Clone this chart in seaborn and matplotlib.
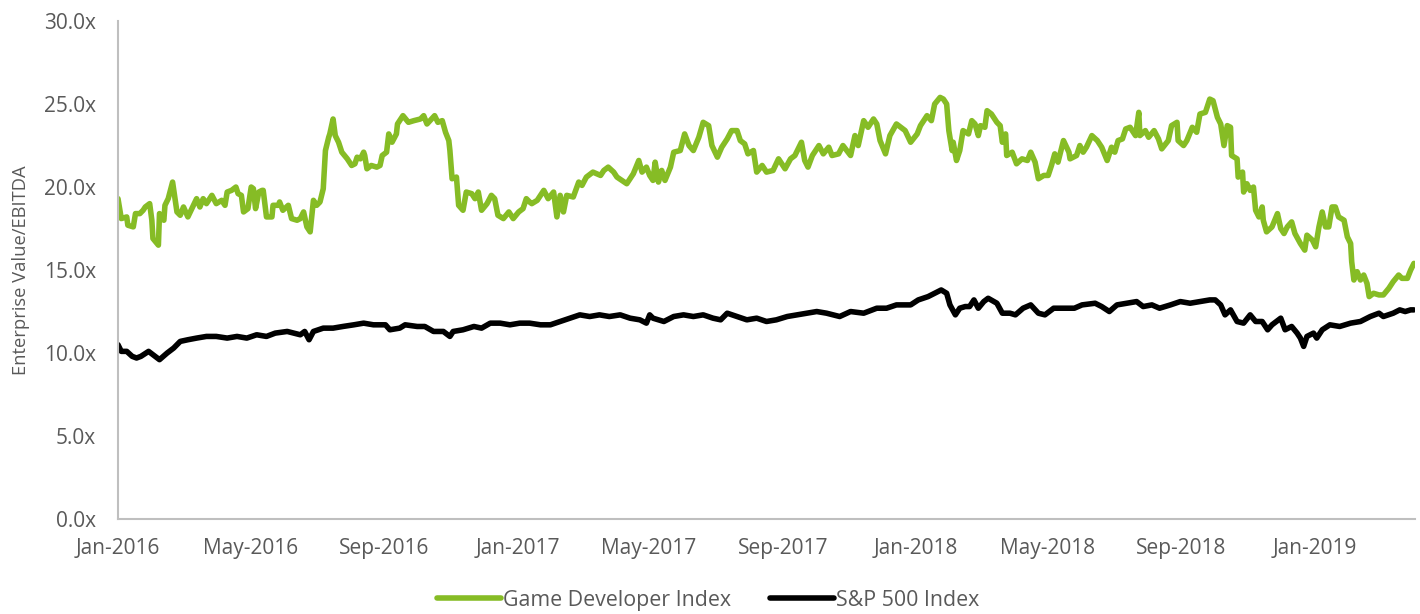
import matplotlib
matplotlib.use("Agg")
import matplotlib.pyplot as plt
import matplotlib.dates as mdates
from matplotlib.ticker import FuncFormatter
import seaborn as sns
import pandas as pd

START = "2016-01-01"

# Game Developer Index: days since Jan 1 2016 and EV/EBITDA multiple
game_days = [0, 3, 8, 9, 14, 16, 20, 23, 25, 29, 31, 32, 37, 38, 42, 43, 46, 50, 54, 57,
             60, 64, 72, 75, 78, 81, 86, 90, 95, 98, 100, 104, 108, 110, 113, 115, 119, 122, 124, 126,
             129, 132, 133, 136, 141, 142, 147, 148, 151, 156, 159, 164, 167, 170, 173, 176, 179, 182, 185, 188,
             190, 193, 194, 197, 199, 202, 205, 210, 214, 217, 219, 222, 225, 226, 228, 232, 237, 240, 242, 246,
             248, 251, 255, 256, 261, 266, 271, 277, 280, 283, 290, 293, 297, 300, 303, 304, 306, 310, 312, 316,
             319, 324, 327, 330, 333, 338, 342, 345, 348, 353, 358, 362, 367, 371, 374, 377,
             379, 384, 390, 394, 399, 402, 405, 408, 411, 417, 422, 425, 429, 435, 442, 445, 449, 454, 457, 466,
             472, 477, 480, 484, 487, 490, 492, 495, 498, 501, 506, 509, 515, 519, 523, 527, 532, 536, 541, 544,
             549, 553, 558, 562, 567, 570, 574, 577, 582, 585, 590, 594, 600, 605, 608, 611, 616, 620, 626, 629,
             632, 636, 642, 646, 651, 654, 660, 664, 671, 675, 678, 683, 687, 692, 695, 698, 703, 707, 713, 721,
             726, 732, 735, 741, 745, 748, 753,
             756, 759, 761, 764, 765, 768, 771, 774, 779, 782, 785, 788, 790, 794, 796, 800, 805, 808, 810, 813,
             814, 819, 823, 828, 833, 836, 840, 843, 848, 852, 855, 858, 861, 866, 871, 872, 878, 881, 884, 887,
             892, 897, 901, 906, 910, 913, 916, 920, 923, 927, 932, 935, 936, 941, 944, 949, 953, 956, 962, 965,
             970, 971, 976, 979, 984, 988, 991, 996, 1000, 1003, 1007, 1010, 1013, 1016, 1019, 1020, 1025, 1026, 1030, 1031,
             1034, 1037, 1040, 1042, 1045, 1048, 1049, 1052, 1057, 1062, 1065, 1068, 1071, 1075, 1078, 1083, 1087, 1089, 1094, 1097,
             1100, 1103, 1106, 1109, 1112, 1115, 1118, 1123, 1126, 1129, 1130, 1132, 1135, 1138, 1141, 1144, 1146, 1150, 1155, 1159,
             1164, 1168, 1173, 1176, 1181, 1184, 1187]
game_vals = [19.3, 18.1, 18.2, 17.7, 17.6, 18.4, 18.4, 18.6, 18.8, 19.0, 18.0, 16.9, 16.5, 18.4, 18.0, 18.9, 19.3, 20.3, 18.5, 18.3,
             18.8, 18.2, 19.3, 18.8, 19.3, 19.0, 19.5, 19.0, 19.2, 18.9, 19.7, 19.8, 20.0, 19.6, 19.5, 18.5, 18.7, 20.0, 19.9, 18.7,
             19.7, 19.8, 19.8, 18.2, 18.2, 18.9, 18.9, 19.1, 18.6, 18.9, 18.1, 18.0, 18.1, 18.5, 17.6, 17.3, 19.2, 18.9, 19.1, 19.9,
             22.2, 23.0, 23.2, 24.1, 23.1, 22.7, 22.1, 21.7, 21.3, 21.4, 21.8, 21.7, 22.1, 21.9, 21.1, 21.3, 21.2, 21.3, 21.9, 22.1,
             23.2, 22.7, 23.2, 23.8, 24.3, 23.9, 24.0, 24.1, 24.3, 23.8, 24.3, 23.9, 24.0, 23.3, 22.8, 22.2, 20.5, 20.6, 18.9, 18.6,
             19.7, 19.6, 19.3, 19.7, 18.6, 19.0, 19.5, 19.3, 18.3, 18.1, 18.5, 18.1, 18.5, 18.7, 19.3, 19.1,
             19.0, 19.2, 19.8, 19.3, 19.7, 18.2, 19.5, 18.5, 19.5, 19.4, 20.3, 20.1, 20.6, 20.9, 20.7, 21.0, 21.2, 20.9, 20.6, 20.2,
             20.8, 21.6, 20.9, 21.2, 20.7, 20.4, 21.5, 20.3, 21.0, 20.4, 21.2, 22.1, 22.2, 23.2, 22.5, 22.2, 23.0, 23.9, 23.7, 22.5,
             21.8, 22.4, 22.9, 23.4, 23.4, 22.8, 22.6, 22.0, 22.2, 20.9, 21.3, 20.9, 21.0, 21.7, 21.4, 21.1, 21.7, 21.9, 22.7, 21.6,
             21.2, 21.9, 22.5, 22.0, 22.4, 21.9, 22.0, 22.5, 21.9, 23.1, 22.5, 24.0, 23.6, 24.1, 23.8, 22.8, 22.0, 23.1, 23.8, 23.4,
             22.7, 23.2, 23.7, 24.3, 24.0, 25.0, 25.4,
             25.3, 25.0, 23.4, 22.2, 22.7, 21.6, 22.2, 23.4, 23.2, 24.0, 23.8, 23.1, 23.7, 23.6, 24.6, 24.4, 23.9, 23.7, 22.7, 23.2,
             21.9, 22.1, 21.4, 21.7, 21.6, 22.1, 21.5, 20.5, 20.7, 20.7, 21.3, 22.0, 21.5, 22.8, 22.1, 21.7, 21.9, 22.5, 22.1, 22.4,
             23.1, 22.8, 22.4, 21.6, 22.4, 22.1, 22.8, 22.9, 23.5, 23.6, 23.1, 24.5, 23.1, 23.4, 23.0, 23.4, 22.9, 22.3, 22.8, 23.7,
             23.9, 22.8, 22.5, 22.8, 23.6, 23.3, 24.4, 24.5, 25.3, 25.2, 24.2, 23.8, 22.5, 23.7, 23.6, 21.9, 21.7, 20.6, 20.9, 19.7,
             20.2, 19.8, 20.0, 18.6, 18.2, 18.8, 18.0, 17.3, 17.6, 18.4, 17.5, 17.2, 17.6, 17.9, 17.2, 16.6, 16.2, 17.1, 16.8, 16.4,
             17.6, 18.5, 17.6, 17.6, 18.8, 18.8, 18.2, 18.0, 17.0, 16.6, 15.5, 14.4, 14.9, 14.4, 14.7, 14.2, 13.4, 13.6, 13.5, 13.5,
             13.9, 14.3, 14.7, 14.5, 14.5, 15.0, 15.4]

# S&P 500 Index
sp_days = [0, 3, 8, 13, 17, 21, 28, 32, 38, 45, 51, 57, 64, 72, 81, 90, 100, 109, 118, 127,
           136, 144, 155, 167, 171, 175, 179, 188, 197, 206, 216, 225, 234, 245, 249, 258, 263, 274, 281, 289,
           298, 304, 307, 316, 326, 333, 341, 350, 359, 368, 377, 387,
           396, 405, 414, 423, 432, 441, 450, 460, 469, 478, 484, 487, 490, 500, 509, 518, 527, 536,
           545, 552, 558, 567, 576, 585, 594, 603, 613, 622, 631, 640, 649, 661, 671, 683, 695, 704, 713, 726,
           733, 742, 748, 754, 759, 762, 767, 771, 776, 780,
           784, 788, 793, 797, 805, 810, 817, 822, 829, 836, 843, 849, 857, 866, 876, 883, 895, 901, 908, 915,
           924, 933, 939, 947, 954, 964, 973, 982, 991, 1000, 1005, 1010, 1014, 1019, 1025, 1031, 1037, 1042, 1048, 1053,
           1057, 1065, 1069, 1075, 1080, 1083, 1086, 1089, 1095, 1098, 1103, 1110, 1119, 1129, 1138, 1147, 1155, 1159, 1168, 1174,
           1179, 1184, 1187]
sp_vals = [10.5, 10.1, 10.1, 9.8, 9.7, 9.8, 10.1, 9.9, 9.6, 10.0, 10.3, 10.7, 10.8, 10.9, 11.0, 11.0, 10.9, 11.0, 10.9, 11.1,
           11.0, 11.2, 11.3, 11.1, 11.3, 10.8, 11.3, 11.5, 11.5, 11.6, 11.7, 11.8, 11.7, 11.7, 11.4, 11.5, 11.7, 11.6, 11.6, 11.3,
           11.3, 11.0, 11.3, 11.4, 11.6, 11.5, 11.8, 11.8, 11.7, 11.8, 11.8, 11.7,
           11.7, 11.9, 12.1, 12.3, 12.2, 12.3, 12.2, 12.3, 12.1, 12.0, 11.8, 12.3, 12.1, 11.9, 12.2, 12.3, 12.2, 12.3,
           12.1, 12.0, 12.4, 12.2, 12.0, 12.1, 11.9, 12.0, 12.2, 12.3, 12.4, 12.5, 12.4, 12.2, 12.5, 12.4, 12.7, 12.7, 12.9, 12.9,
           13.2, 13.4, 13.6, 13.8, 13.6, 12.9, 12.3, 12.7, 12.8, 12.8,
           13.2, 12.7, 13.1, 13.3, 13.0, 12.4, 12.4, 12.3, 12.7, 12.9, 12.4, 12.3, 12.7, 12.7, 12.7, 12.9, 13.0, 12.8, 12.5, 12.9,
           13.0, 13.1, 12.8, 12.9, 12.7, 12.9, 13.1, 13.0, 13.1, 13.2, 13.2, 12.9, 12.3, 12.6, 11.9, 11.8, 12.3, 11.9, 11.9, 11.4,
           11.7, 12.1, 11.4, 11.6, 11.2, 10.9, 10.4, 11.0, 11.2, 10.9, 11.4, 11.7, 11.6, 11.8, 11.9, 12.2, 12.4, 12.2, 12.4, 12.6,
           12.5, 12.6, 12.6]

y_ticks = [0, 5, 10, 15, 20, 25, 30]
series_names = ["Game Developer Index", "S&P 500 Index"]
series_colors = ["#86BC25", "#000000"]

GREY = "#595959"
AXIS_GREY = "#BFBFBF"

sns.set_style("white")
plt.rcParams["font.family"] = ["Open Sans", "DejaVu Sans"]

start = pd.Timestamp(START)
game_df = pd.DataFrame({"date": start + pd.to_timedelta(game_days, unit="D"), "value": game_vals})
sp_df = pd.DataFrame({"date": start + pd.to_timedelta(sp_days, unit="D"), "value": sp_vals})

fig = plt.figure(figsize=(14.2, 6.14), dpi=100)
ax = fig.add_axes([0.0831, 0.1547, 0.9134, 0.811])

for df, name, color in zip([game_df, sp_df], series_names, series_colors):
    sns.lineplot(data=df, x="date", y="value", ax=ax, color=color, linewidth=4.0,
                 label=name, estimator=None, sort=False, solid_joinstyle="round")

ax.set_ylim(0, 30)
ax.set_yticks(y_ticks)
ax.yaxis.set_major_formatter(FuncFormatter(lambda v, p: f"{v:.1f}x"))
ax.set_xlim(start, start + pd.Timedelta(days=1188))
ax.xaxis.set_major_locator(mdates.MonthLocator(bymonth=[1, 5, 9]))
ax.xaxis.set_major_formatter(mdates.DateFormatter("%b-%Y"))

ax.set_xlabel("")
ax.set_ylabel("Enterprise Value/EBITDA", fontsize=13.2, color=GREY, labelpad=10)

for side in ["top", "right"]:
    ax.spines[side].set_visible(False)
for side in ["left", "bottom"]:
    ax.spines[side].set_color(AXIS_GREY)
    ax.spines[side].set_linewidth(1.5)

ax.tick_params(axis="both", which="major", length=6, width=1.5, color=AXIS_GREY,
               labelsize=15, labelcolor=GREY, direction="out")
ax.tick_params(axis="y", pad=10)
ax.tick_params(axis="x", pad=8)

ax.legend(loc="center", bbox_to_anchor=(0.455, -0.163), ncol=2, frameon=False,
          fontsize=15.4, handlelength=3.0, handletextpad=0.1, columnspacing=1.8,
          labelcolor=GREY)

fig.savefig("out.png", dpi=100)
